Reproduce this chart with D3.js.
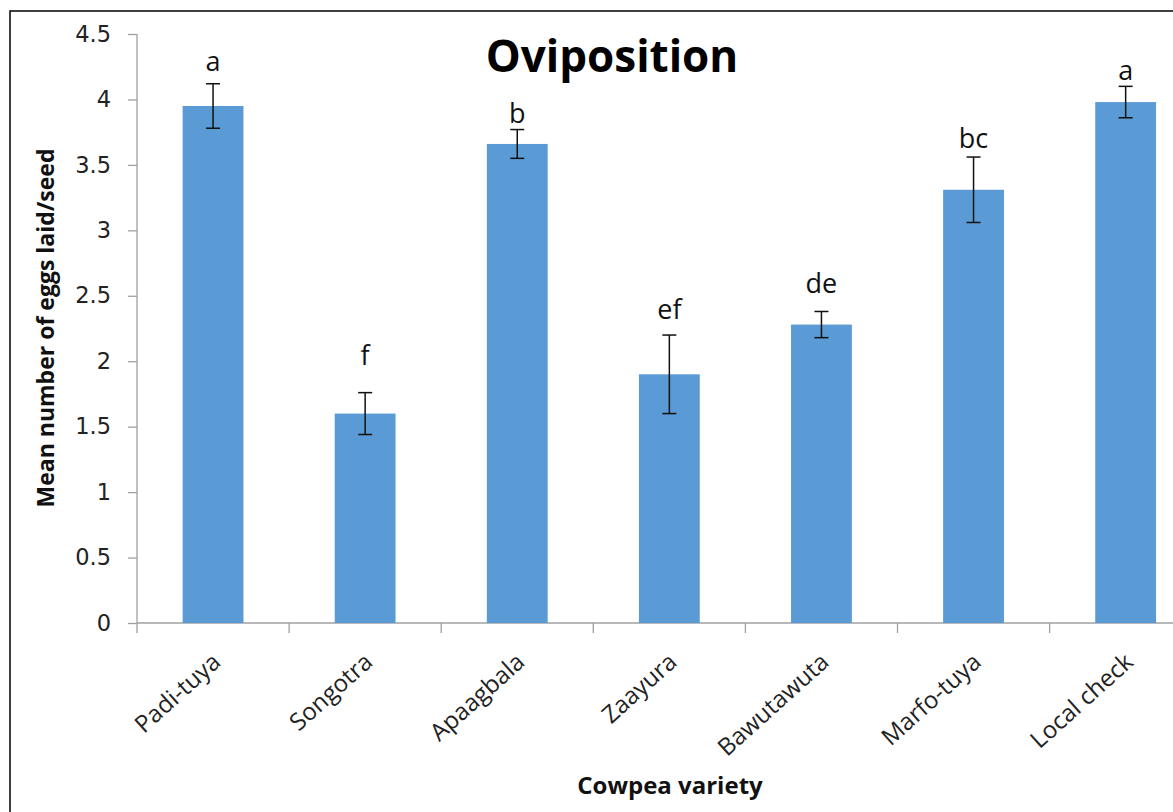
<!DOCTYPE html>
<html>
<head>
<meta charset="utf-8">
<script src="https://cdn.jsdelivr.net/npm/d3@7"></script>
<style>
  body { margin: 0; background: #fff; }
  svg { display: block; font-family: "Open Sans", "Noto Sans", sans-serif; }
  .ytick { font-family: "DejaVu Sans", sans-serif; font-size: 22.5px; fill: #222; }
</style>
</head>
<body>
<div id="chart"></div>
<script>
// data
const varieties = ["Padi-tuya", "Songotra", "Apaagbala", "Zaayura", "Bawutawuta", "Marfo-tuya", "Local check"];
const meanEggs = [3.95, 1.60, 3.66, 1.90, 2.28, 3.31, 3.98];
const stdErr = [0.17, 0.16, 0.11, 0.30, 0.10, 0.25, 0.12];
const letters = ["a", "f", "b", "ef", "de", "bc", "a"];
const letterLevel = [4.22, 1.97, 3.82, 2.32, 2.52, 3.63, 4.145]; // where the letters sit
const yTicks = [0, 0.5, 1, 1.5, 2, 2.5, 3, 3.5, 4, 4.5];

const width = 1173, height = 812;
const margin = {top: 34, left: 137, bottom: 189};
const innerHeight = height - margin.top - margin.bottom;
const bandW = 152.1;

const svg = d3.select("#chart")
  .append("svg")
  .attr("width", width)
  .attr("height", height);

// outer frame (cropped at right and bottom)
svg.append("rect")
  .attr("x", 10).attr("y", 11)
  .attr("width", width + 20).attr("height", height + 20)
  .attr("fill", "none")
  .attr("stroke", "#000")
  .attr("stroke-width", 1.5);

const g = svg.append("g")
  .attr("transform", `translate(${margin.left},${margin.top})`);

const x = d3.scaleBand()
  .domain(varieties)
  .range([0, bandW * varieties.length])
  .paddingInner(0.6)
  .paddingOuter(0.3);

const y = d3.scaleLinear()
  .domain([0, 4.5])
  .range([innerHeight, 0]);

// y axis
const yAxis = g.append("g")
  .call(d3.axisLeft(y).tickValues(yTicks).tickSize(9).tickPadding(17)
    .tickFormat(d => d3.format("")(d)));
yAxis.selectAll("line, path").attr("stroke", "#a0a0a0").attr("stroke-width", 1.3);
yAxis.select("path").attr("d", `M0,0V${innerHeight}`);
yAxis.selectAll("text").attr("class", "ytick");

// x axis: ticks at category boundaries
const boundaries = d3.range(varieties.length + 1).map(i => i * bandW);
const xAxisG = g.append("g").attr("transform", `translate(0,${innerHeight})`);
xAxisG.append("line")
  .attr("x1", 0).attr("x2", bandW * varieties.length)
  .attr("stroke", "#a0a0a0").attr("stroke-width", 1.3);
xAxisG.selectAll(".tk")
  .data(boundaries)
  .join("line")
  .attr("class", "tk")
  .attr("x1", d => d).attr("x2", d => d)
  .attr("y1", 0).attr("y2", 10)
  .attr("stroke", "#a0a0a0").attr("stroke-width", 1.3);

xAxisG.selectAll(".lbl")
  .data(varieties)
  .join("text")
  .attr("class", "lbl")
  .attr("text-anchor", "end")
  .attr("font-size", 24)
  .attr("fill", "#222")
  .attr("transform", d => `translate(${x(d) + x.bandwidth() / 2 + 9},${41}) rotate(-42)`)
  .text(d => d);

// bars
g.selectAll(".bar")
  .data(varieties)
  .join("rect")
  .attr("class", "bar")
  .attr("x", d => x(d))
  .attr("width", x.bandwidth())
  .attr("y", (d, i) => y(meanEggs[i]))
  .attr("height", (d, i) => innerHeight - y(meanEggs[i]))
  .attr("fill", "#5b9bd5");

// error bars
const eb = g.selectAll(".err")
  .data(varieties)
  .join("g")
  .attr("class", "err")
  .attr("transform", d => `translate(${x(d) + x.bandwidth() / 2},0)`)
  .attr("stroke", "#111")
  .attr("stroke-width", 1.5);
eb.append("line")
  .attr("y1", (d, i) => y(meanEggs[i] + stdErr[i]))
  .attr("y2", (d, i) => y(meanEggs[i] - stdErr[i]));
eb.append("line")
  .attr("x1", -7).attr("x2", 7)
  .attr("y1", (d, i) => y(meanEggs[i] + stdErr[i]))
  .attr("y2", (d, i) => y(meanEggs[i] + stdErr[i]));
eb.append("line")
  .attr("x1", -7).attr("x2", 7)
  .attr("y1", (d, i) => y(meanEggs[i] - stdErr[i]))
  .attr("y2", (d, i) => y(meanEggs[i] - stdErr[i]));

// significance letters
g.selectAll(".sig")
  .data(varieties)
  .join("text")
  .attr("class", "sig")
  .attr("text-anchor", "middle")
  .attr("font-size", 27)
  .attr("fill", "#111")
  .attr("x", d => x(d) + x.bandwidth() / 2)
  .attr("y", (d, i) => y(letterLevel[i]))
  .text((d, i) => letters[i]);

// title
svg.append("text")
  .attr("x", 612).attr("y", 72)
  .attr("text-anchor", "middle")
  .attr("font-size", 44)
  .attr("font-weight", "bold")
  .attr("fill", "#000")
  .text("Oviposition");

// axis titles
svg.append("text")
  .attr("transform", `translate(54,328) rotate(-90)`)
  .attr("text-anchor", "middle")
  .attr("font-size", 23)
  .attr("font-weight", "bold")
  .attr("fill", "#111")
  .text("Mean number of eggs laid/seed");

svg.append("text")
  .attr("x", 670).attr("y", 794)
  .attr("text-anchor", "middle")
  .attr("font-size", 24)
  .attr("font-weight", "bold")
  .attr("fill", "#111")
  .text("Cowpea variety");
</script>
</body>
</html>
